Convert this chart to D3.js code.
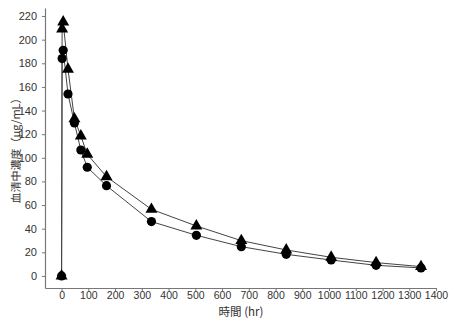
<!DOCTYPE html>
<html><head><meta charset="utf-8">
<script src="https://cdn.jsdelivr.net/npm/d3@7/dist/d3.min.js"></script>
<style>body{margin:0;background:#fff}svg{display:block}</style>
</head><body>
<script>
const timesA = [0, 2, 6, 24, 48, 72, 96, 168, 336, 504, 672, 840, 1008, 1176, 1344];
const seriesTriangle = [0, 209, 215, 175, 133, 118.5, 103, 84, 56.4, 42.3, 29.9, 22, 15.8, 11.3, 7.9];
const seriesCircle = [0, 184, 191, 154, 129.5, 106.6, 92, 76.4, 46, 34.4, 24.8, 18.3, 13.5, 9, 6.8];
const xTicks = [0,100,200,300,400,500,600,700,800,900,1000,1100,1200,1300,1400];
const yTicks = [0,20,40,60,80,100,120,140,160,180,200,220];
const xTitle = "時間 (hr)";
const yTitle = "血清中濃度（μg/mL）";

const W = 457, H = 321;
const svg = d3.select("body").append("svg").attr("width", W).attr("height", H);
const x = d3.scaleLinear().domain([-62, 1400]).range([45, 436]);
const y = d3.scaleLinear().domain([-10.2, 226.8]).range([288, 8]);
const font = "'Liberation Sans', Arial, sans-serif";

const xa = svg.append("g").attr("transform", "translate(0,288)")
  .call(d3.axisBottom(x).tickValues(xTicks).tickFormat(d3.format("d")).tickSize(3).tickSizeOuter(0).tickPadding(0.5));
const ya = svg.append("g").attr("transform", "translate(45,0)")
  .call(d3.axisLeft(y).tickValues(yTicks).tickFormat(d3.format("d")).tickSize(3).tickSizeOuter(0).tickPadding(5));
[xa, ya].forEach(a => {
  a.select(".domain").attr("stroke", "#777").attr("stroke-width", 1.2);
  a.selectAll(".tick line").attr("stroke", "#777");
  a.selectAll("text").attr("font-family", font).attr("font-size", 10.5).attr("fill", "#333");
});
ya.selectAll("text").attr("font-size", 11);

const line = d3.line().x((d,i) => x(timesA[i])).y(d => y(d));
[seriesCircle, seriesTriangle].forEach(s => {
  svg.append("path").datum(s).attr("d", line).attr("fill", "none")
    .attr("stroke", "#444").attr("stroke-width", 1);
});
svg.append("g").selectAll("circle").data(seriesCircle).join("circle")
  .attr("cx", (d,i) => x(timesA[i])).attr("cy", d => y(d)).attr("r", 4.6).attr("fill", "#000");
const tri = d3.symbol().type(d3.symbolTriangle).size(62);
svg.append("g").selectAll("path").data(seriesTriangle).join("path")
  .attr("d", tri).attr("transform", (d,i) => `translate(${x(timesA[i])},${y(d)})`).attr("fill", "#000");

svg.append("text").attr("x", 241).attr("y", 316).attr("text-anchor", "middle")
  .attr("font-family", "'Noto Sans CJK JP', sans-serif").attr("font-size", 11.5).attr("fill", "#333").text(xTitle);
svg.append("text").attr("transform", "translate(20,148) rotate(-90)").attr("text-anchor", "middle")
  .attr("font-family", "'Noto Sans CJK JP', sans-serif").attr("font-size", 11).attr("fill", "#333")
  .style("text-rendering", "geometricPrecision").text(yTitle);
</script>
</body></html>
